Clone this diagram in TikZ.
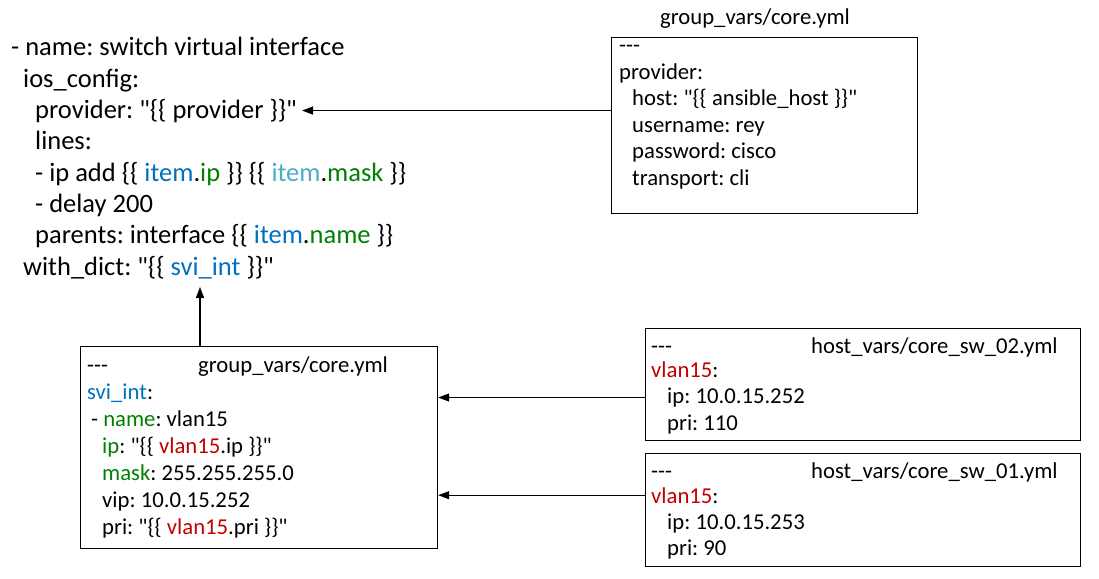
\documentclass[tikz,border=0pt]{standalone}
\usepackage{fontspec}
\setmainfont{Carlito}[Ligatures=TeXOff]
\usepackage{xcolor}
\usepackage{tikz}
\usetikzlibrary{arrows.meta}

\definecolor{yblue}{HTML}{0070C0}
\definecolor{ygreen}{HTML}{008000}
\definecolor{ycyan}{HTML}{4BACC6}
\definecolor{yred}{HTML}{C00000}
\newcommand{\yb}[1]{\textcolor{yblue}{#1}}
\newcommand{\yg}[1]{\textcolor{ygreen}{#1}}
\newcommand{\yc}[1]{\textcolor{ycyan}{#1}}
\newcommand{\yr}[1]{\textcolor{yred}{#1}}

\tikzset{
  bigline/.style={anchor=base west, inner sep=0pt, font=\fontsize{26.5}{31}\selectfont\frenchspacing},
  boxline/.style={anchor=base west, inner sep=0pt, font=\fontsize{22.7}{26}\selectfont\frenchspacing},
  filebox/.style={draw, line width=1.2pt, anchor=north west, inner sep=0pt},
  arr/.style={line width=1.2pt, -{Triangle[length=11pt,width=8pt]}}
}

\begin{document}
\begin{tikzpicture}[x=1pt,y=-1pt]
    \useasboundingbox (0,0) rectangle (1099,578);

    % Task
    \node[bigline] (tname) at (11,55.7) {- name: switch virtual interface};
    \node[bigline] (tios)  at (23,87)   {ios\_config:};
    \node[bigline] (tprov) at (35,118)  {provider: "\{\{ provider \}\}"};
    \node[bigline] (tlines) at (35,149.5) {lines:};
    \node[bigline] (tip)   at (35,181)  {- ip add \{\{ \yb{item}.\yg{ip} \}\} \{\{ \yc{item}.\yg{mask} \}\}};
    \node[bigline] (tdelay) at (35,212) {- delay 200};
    \node[bigline] (tpar)  at (35,243.5) {parents: interface \{\{ \yb{item}.\yg{name} \}\}};
    \node[bigline] (tdict) at (23,275)  {with\_dict: "\{\{ \yb{svi\_int} \}\}"};

    % group_vars/core.yml (provider)
    \node[boxline, anchor=base] (coretitle) at (755,25) {group\_vars/core.yml};
    \node[filebox, minimum width=306pt, minimum height=176pt] (core) at (611,37) {};
    \node[boxline] (c1) at (619,52.5) {---};
    \node[boxline] (c2) at (619,79)   {provider:};
    \node[boxline] (c3) at (632,105.5) {host: "\{\{ ansible\_host \}\}"};
    \node[boxline] (c4) at (632,132)  {username: rey};
    \node[boxline] (c5) at (632,158.5) {password: cisco};
    \node[boxline] (c6) at (632,185)  {transport: cli};

    % group_vars/core.yml (svi_int)
    \node[filebox, minimum width=357pt, minimum height=202pt] (svi) at (80,346) {};
    \node[boxline] (s0) at (87,372.5)  {---};
    \node[boxline] (stitle) at (198,372.5) {group\_vars/core.yml};
    \node[boxline] (s1) at (87,399.5)  {\yb{svi\_int}:};
    \node[boxline] (s2) at (91,426.5)  {- \yg{name}: vlan15};
    \node[boxline] (s3) at (102,453.5) {\yg{ip}: "\{\{ \yr{vlan15}.ip \}\}"};
    \node[boxline] (s4) at (102,480.5) {\yg{mask}: 255.255.255.0};
    \node[boxline] (s5) at (102,507.5) {vip: 10.0.15.252};
    \node[boxline] (s6) at (102,534.5) {pri: "\{\{ \yr{vlan15}.pri \}\}"};

    % host_vars/core_sw_02.yml
    \node[filebox, minimum width=435pt, minimum height=112pt] (sw02) at (645,328) {};
    \node[boxline] (a0) at (651,353)   {---};
    \node[boxline] (atitle) at (811,353) {host\_vars/core\_sw\_02.yml};
    \node[boxline] (a1) at (651,377.5) {\yr{vlan15}:};
    \node[boxline] (a2) at (667,403.5) {ip: 10.0.15.252};
    \node[boxline] (a3) at (667,430)   {pri: 110};

    % host_vars/core_sw_01.yml
    \node[filebox, minimum width=435pt, minimum height=113pt] (sw01) at (645,453) {};
    \node[boxline] (b0) at (651,478.5) {---};
    \node[boxline] (btitle) at (811,478.5) {host\_vars/core\_sw\_01.yml};
    \node[boxline] (b1) at (651,503)   {\yr{vlan15}:};
    \node[boxline] (b2) at (667,529.5) {ip: 10.0.15.253};
    \node[boxline] (b3) at (667,555)   {pri: 90};

    % Arrows
    \coordinate (dict) at (200,287);
    \draw[arr] (core.west |- tprov.east) -- ([xshift=5pt]tprov.east);
    \draw[arr] (dict |- svi.north) -- (dict);
    \draw[arr] (sw02.west |- a2.east) -- (svi.east |- a2.east);
    \draw[arr] (sw01.west |- b1.east) -- (svi.east |- b1.east);

\end{tikzpicture}
\end{document}
